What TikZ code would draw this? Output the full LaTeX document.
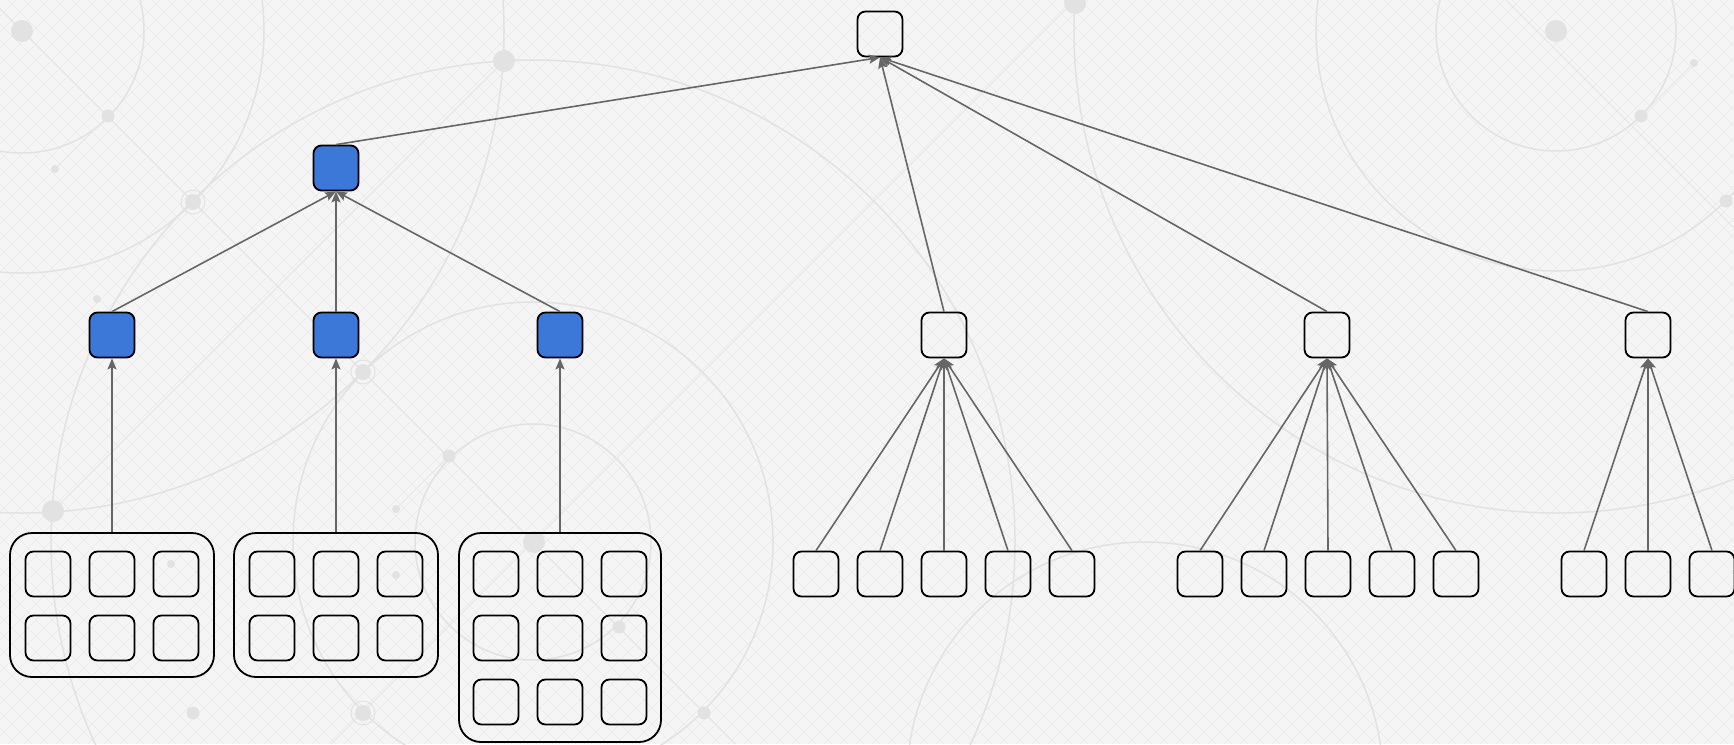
\documentclass[tikz,border=0pt]{standalone}
\usetikzlibrary{arrows.meta}
\definecolor{bgfill}{HTML}{F5F5F5}
\definecolor{gridline}{HTML}{EAEAEA}
\definecolor{ornament}{HTML}{E2E2E2}
\definecolor{strand}{HTML}{E5E5E5}
\definecolor{blockblue}{HTML}{3C78D8}
\definecolor{edgegray}{HTML}{666666}
\begin{document}
\begin{tikzpicture}[x=1pt,y=-1pt,
  box/.style={draw=black, line width=1.8pt, rounded corners=8pt,
    minimum width=45pt, minimum height=45pt, inner sep=0pt},
  bluebox/.style={box, fill=blockblue},
  holder/.style={draw=black, line width=1.8pt, rounded corners=22pt, inner sep=0pt},
  link/.style={draw=edgegray, line width=1.6pt,
    -{Stealth[length=11pt,width=9pt,inset=2pt]}},
  ring/.style={draw=ornament, line width=1.5pt},
  net/.style={draw=strand, line width=1pt},
  dot/.style={fill=ornament}]

% canvas
\fill[bgfill] (0,0) rectangle (1734,744);
\useasboundingbox (0,0) rectangle (1734,744);

% faint diagonal hatching and ornamental network
\begin{scope}
  \clip (0,0) rectangle (1734,744);
  \foreach \k in {-744,-728,...,1734} {
    \draw[gridline, line width=0.5pt] (\k,0) -- (\k+744,744);
  }
  \foreach \k in {0,16,...,2478} {
    \draw[gridline, line width=0.5pt] (\k,0) -- (\k-744,744);
  }
  % concentric rings
  \foreach \r in {122,242,482} { \draw[ring] (22,31) circle[radius=\r]; }
  \foreach \r in {118,240,482} { \draw[ring] (533,542) circle[radius=\r]; }
  \foreach \r in {120,240,482} { \draw[ring] (1556,31) circle[radius=\r]; }
  \draw[ring] (1145,780) circle[radius=238];
  % network strands
  \draw[net] (0,9) -- (735,744);
  \draw[net] (533,542) -- (1075,0);
  \draw[net] (533,542) -- (331,744);
  \draw[net] (53,511) -- (504,61);
  \draw[net] (1506,0) -- (1734,228);
  \draw[net] (108,116) -- (55,169);
  \draw[net] (1641,116) -- (1694,63);
  \draw[net] (449,456) -- (396,509);
  % nodes of the network
  \foreach \p in {(22,31),(504,61),(1075,3),(1556,31),(53,511),(534,542)} {
    \fill[dot] \p circle[radius=11];
  }
  \foreach \p in {(108,116),(1641,116),(449,456),(619,627),(1726,201),(704,713),(193,713)} {
    \fill[dot] \p circle[radius=6.5];
  }
  \foreach \p in {(193,202),(363,372),(363,713)} {
    \fill[dot] \p circle[radius=8];
    \draw[ornament, line width=1pt] \p circle[radius=12];
  }
  \foreach \p in {(55,169),(97,299),(396,509),(1694,63),(171,564),(396,575)} {
    \fill[dot] \p circle[radius=4];
  }
\end{scope}

% root
\node[box] (top) at (880,34) {};

% left branch
\node[bluebox] (b1) at (336,168) {};
\node[bluebox] (l1) at (112,335) {};
\node[bluebox] (l2) at (336,335) {};
\node[bluebox] (l3) at (560,335) {};

% right-hand subtrees
\node[box] (w1) at (944,335) {};
\node[box] (w2) at (1327,335) {};
\node[box] (w3) at (1648,335) {};

% grouped blocks
\node[holder, minimum width=204pt, minimum height=144pt] (c1) at (112,605) {};
\node[holder, minimum width=204pt, minimum height=144pt] (c2) at (336,605) {};
\node[holder, minimum width=202pt, minimum height=209pt] (c3) at (560,637.5) {};
\foreach \dx [count=\i] in {-64,0,64} {
  \node[box] (c1a\i) at (112+\dx,574) {};
  \node[box] (c1b\i) at (112+\dx,638) {};
  \node[box] (c2a\i) at (336+\dx,574) {};
  \node[box] (c2b\i) at (336+\dx,638) {};
  \node[box] (c3a\i) at (560+\dx,574) {};
  \node[box] (c3b\i) at (560+\dx,638) {};
  \node[box] (c3c\i) at (560+\dx,702) {};
}

% leaves
\foreach \x [count=\i] in {816,880,944,1008,1072} {
  \node[box] (p\i) at (\x,574) {};
  \draw[link] (p\i.north) -- (w1.south);
}
\foreach \x [count=\i] in {1200,1264,1328,1392,1456} {
  \node[box] (q\i) at (\x,574) {};
  \draw[link] (q\i.north) -- (w2.south);
}
\foreach \x [count=\i] in {1584,1648,1712} {
  \node[box] (r\i) at (\x,574) {};
  \draw[link] (r\i.north) -- (w3.south);
}

% connectors
\draw[link] (c1.north) -- (l1.south);
\draw[link] (c2.north) -- (l2.south);
\draw[link] (c3.north) -- (l3.south);
\draw[link] (l1.north) -- (b1.south);
\draw[link] (l2.north) -- (b1.south);
\draw[link] (l3.north) -- (b1.south);
\draw[link] (b1.north) -- (top.south);
\draw[link] (w1.north) -- (top.south);
\draw[link] (w2.north) -- (top.south);
\draw[link] (w3.north) -- (top.south);
\end{tikzpicture}
\end{document}
